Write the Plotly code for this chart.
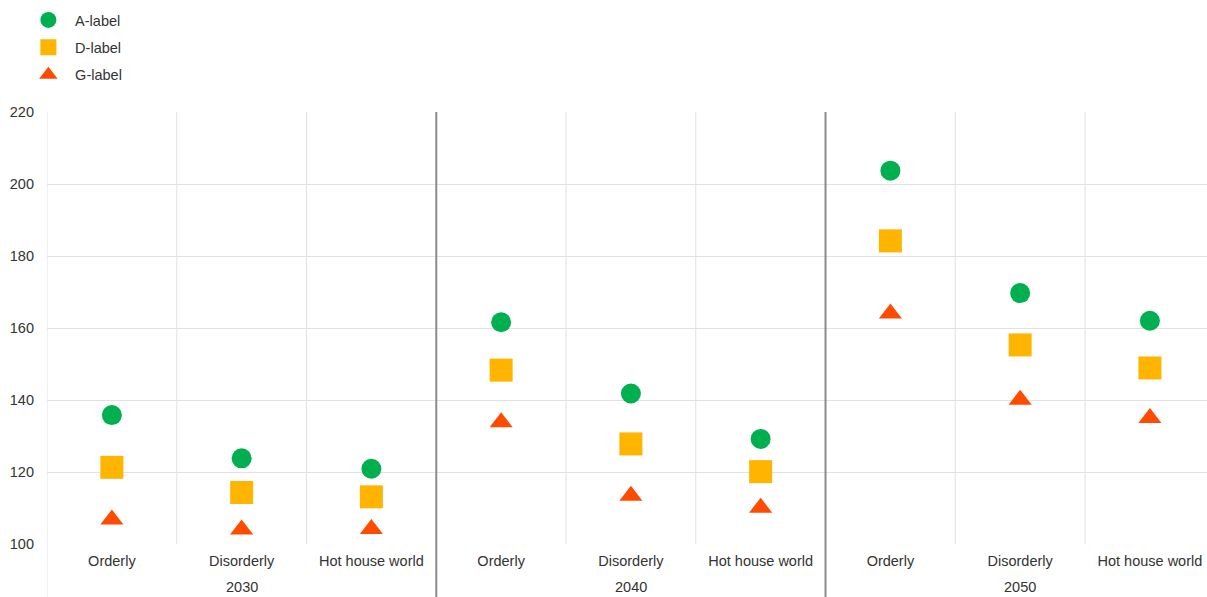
import plotly.graph_objects as go

years = ["2030", "2040", "2050"]
scenarios = ["Orderly", "Disorderly", "Hot house world"]
a_label = [135.8, 123.8, 120.9, 161.6, 141.8, 129.2, 203.7, 169.7, 162.0]
d_label = [121.3, 114.3, 113.1, 148.3, 127.8, 120.1, 184.2, 155.3, 148.9]
g_label = [106.8, 104.0, 104.2, 133.8, 113.4, 110.1, 164.0, 140.1, 135.0]
y_ticks = [100, 120, 140, 160, 180, 200, 220]

cats = [f"{y} {s}" for y in years for s in scenarios]
xpos = list(range(len(cats)))
ticktext = [s for y in years for s in scenarios]

FONT = "Arial, Liberation Sans, sans-serif"
TXT = "#333333"
GRID = "#e1e1e1"
DARK = "#8c8c8c"
FS = 14.5

fig = go.Figure()
series = [
    ("A-label", a_label, "circle", 20, "#00b050"),
    ("D-label", d_label, "square", 23, "#ffb400"),
    ("G-label", g_label, "triangle-up", 20, "#ff4b00"),
]
for name, vals, sym, size, col in series:
    fig.add_trace(go.Scatter(
        x=xpos, y=vals, mode="markers", name=name, legendgroup=name,
        marker=dict(symbol=sym, size=size, color=col, line=dict(width=0)),
        hoverinfo="x+y",
    ))

shapes = []
shapes.append(dict(type="line", xref="x", yref="paper", x0=-0.5, x1=-0.5,
                   y0=-53/432, y1=1, line=dict(color=GRID, width=1), layer="below"))
for i in range(len(cats) - 1):
    b = i + 0.5
    if (i + 1) % 3 == 0:
        shapes.append(dict(type="line", xref="x", yref="paper", x0=b, x1=b,
                           y0=-53/432, y1=1, line=dict(color=DARK, width=2), layer="above"))
    else:
        shapes.append(dict(type="line", xref="x", yref="paper", x0=b, x1=b,
                           y0=0, y1=1, line=dict(color=GRID, width=1), layer="below"))

annotations = []
for gi, y in enumerate(years):
    annotations.append(dict(x=gi * 3 + 1, y=-(587 - 544) / 432, xref="x", yref="paper",
                            text=y, showarrow=False, xanchor="center", yanchor="middle",
                            font=dict(family=FONT, size=FS, color=TXT)))

fig.update_layout(
    width=1207, height=597,
    margin=dict(l=47, r=0, t=112, b=53),
    paper_bgcolor="white", plot_bgcolor="white",
    font=dict(family=FONT, size=FS, color=TXT),
    showlegend=True,
    legend=dict(x=-0.018 - 4.5 / 1160, y=1 + (112 - 4) / 432, xanchor="left", yanchor="top",
                font=dict(family=FONT, size=FS, color=TXT),
                tracegroupgap=5.5, bgcolor="rgba(0,0,0,0)", itemwidth=43.5),
    xaxis=dict(range=[-0.5, 8.44], tickmode="array", tickvals=xpos, ticktext=ticktext,
               showgrid=False, zeroline=False, showline=False, ticks="",
               ticklabelstandoff=6, tickfont=dict(family=FONT, size=FS, color=TXT),
               fixedrange=True),
    yaxis=dict(range=[100, 220], tickmode="array", tickvals=y_ticks,
               showgrid=True, gridcolor=GRID, gridwidth=1, zeroline=False,
               showline=False, ticks="", ticklabelstandoff=12,
               tickfont=dict(family=FONT, size=FS, color=TXT), fixedrange=True),
    shapes=shapes, annotations=annotations,
)

fig.write_html("out.html", config={"displayModeBar": False},
               post_script="document.body.style.margin='0';document.body.style.overflow='hidden';")
